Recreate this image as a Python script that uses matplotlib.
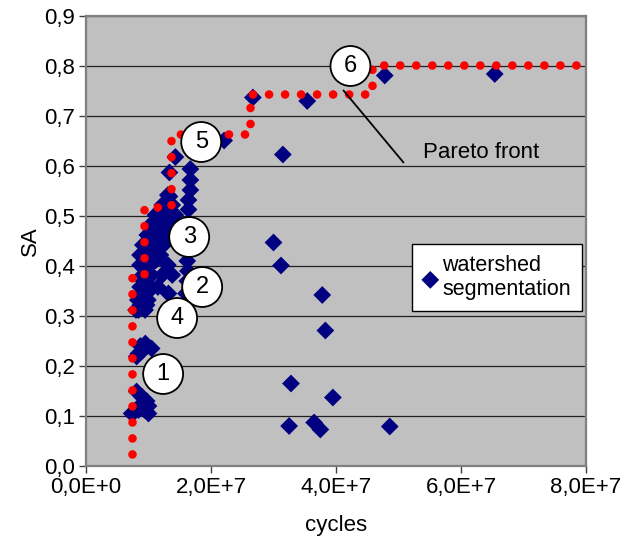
import math
import matplotlib
matplotlib.use('Agg')
import matplotlib.pyplot as plt
from matplotlib.ticker import FuncFormatter, MultipleLocator

plt.rcParams['font.family'] = ['Liberation Sans', 'DejaVu Sans']

SCALE = 1e7  # x values below are in units of 1e7 cycles

# watershed segmentation results (cycles / 1e7, SA)
ws_x = [0.73, 0.78, 0.84, 0.86, 0.95, 0.97, 1.00, 0.89, 0.81, 0.94, 1.00,
        0.81, 0.84, 0.89, 0.95, 0.97, 1.05, 0.87,
        0.84, 0.87, 0.95, 0.97, 0.89, 0.95, 1.05, 1.32, 0.97, 0.90,
        1.31, 1.22, 1.38, 1.11, 1.27, 1.43, 1.03, 1.19, 1.35, 0.98, 1.14, 1.30,
        0.91, 1.07, 1.24, 0.865, 1.03, 1.19, 0.865, 1.03, 1.31,
        0.91, 1.05, 1.22, 1.38, 0.865, 1.03, 1.15, 0.83, 0.99, 0.80, 0.945,
        1.26, 1.16, 1.08, 1.10, 0.95, 1.12, 1.20, 0.92,
        1.60, 1.61, 1.60, 1.62, 1.63, 1.62,
        1.43, 1.67, 1.335, 1.67, 1.67, 1.64, 1.64, 1.335, 2.21,
        3.00, 3.12, 3.78, 3.83, 3.28, 3.95, 3.25, 3.65, 3.75, 4.86,
        4.78, 6.54, 3.54, 2.67, 3.15]
ws_y = [0.105, 0.109, 0.112, 0.120, 0.125, 0.130, 0.105, 0.139, 0.149, 0.112, 0.120,
        0.219, 0.225, 0.229, 0.245, 0.239, 0.235, 0.240,
        0.312, 0.322, 0.330, 0.322, 0.335, 0.355, 0.355, 0.345, 0.360, 0.345,
        0.542, 0.522, 0.522, 0.502, 0.502, 0.502, 0.482, 0.482, 0.482, 0.462, 0.462, 0.462,
        0.442, 0.442, 0.442, 0.422, 0.422, 0.422, 0.402, 0.402, 0.402,
        0.382, 0.382, 0.382, 0.382, 0.358, 0.358, 0.358, 0.332, 0.332, 0.312, 0.312,
        0.520, 0.492, 0.472, 0.432, 0.392, 0.412, 0.452, 0.370,
        0.310, 0.325, 0.345, 0.370, 0.390, 0.410,
        0.618, 0.594, 0.587, 0.572, 0.552, 0.532, 0.513, 0.539, 0.651,
        0.447, 0.401, 0.342, 0.271, 0.165, 0.137, 0.080, 0.087, 0.073, 0.079,
        0.781, 0.784, 0.730, 0.737, 0.623]

# Pareto front corners
pareto_x = [0.74, 0.74, 0.93, 0.93, 1.36, 1.36, 2.63, 2.63, 4.57, 4.57, 8.0]
pareto_y = [0.025, 0.378, 0.378, 0.519, 0.519, 0.665, 0.665, 0.745, 0.745, 0.803, 0.803]

# numbered markers on the front
label_text = ['1', '2', '3', '4', '5', '6']
label_x = [1.234, 1.859, 1.651, 1.458, 1.843, 4.231]
label_y = [0.184, 0.358, 0.458, 0.296, 0.648, 0.800]

pareto_note = 'Pareto front'
note_xy = (4.12, 0.751)
note_end = (5.08, 0.607)
note_text_pos = (5.40, 0.628)


def fmt_x(v, pos):
    if v == 0:
        return '0,0E+0'
    e = int(math.floor(math.log10(abs(v))))
    m = v / 10 ** e
    return ('%.1fE+%d' % (m, e)).replace('.', ',')


def fmt_y(v, pos):
    return ('%.1f' % v).replace('.', ',')


fig = plt.figure(figsize=(6.26, 5.36), dpi=100)
ax = fig.add_axes([86 / 626, 1 - 466 / 536, 500 / 626, 450 / 536])
ax.set_facecolor('#c0c0c0')

ax.set_xlim(0, 8e7)
ax.set_ylim(0, 0.9)
ax.xaxis.set_major_locator(MultipleLocator(2e7))
ax.yaxis.set_major_locator(MultipleLocator(0.1))
ax.xaxis.set_major_formatter(FuncFormatter(fmt_x))
ax.yaxis.set_major_formatter(FuncFormatter(fmt_y))
ax.grid(axis='y', color='#202020', linewidth=0.9, zorder=0)
ax.set_axisbelow(True)

for s in ax.spines.values():
    s.set_color('#808080')
    s.set_linewidth(1.6)
ax.tick_params(direction='out', length=5, width=1, color='#404040',
               labelsize=16, pad=3)

ax.scatter([v * SCALE for v in ws_x], ws_y, marker='D', s=82,
           color='#000080', edgecolors='none', zorder=3,
           label='watershed\nsegmentation')

ax.plot([v * SCALE for v in pareto_x], pareto_y, color='#ff0000',
        linewidth=6.2, linestyle=(0, (0.01, 1.85)), dash_capstyle='round',
        zorder=4, clip_on=False)

ax.annotate('', xy=(note_xy[0] * SCALE, note_xy[1]),
            xytext=(note_end[0] * SCALE, note_end[1]),
            arrowprops=dict(arrowstyle='-', color='black', lw=1.3,
                            shrinkA=0, shrinkB=0), zorder=5)
ax.text(note_text_pos[0] * SCALE, note_text_pos[1], pareto_note,
        fontsize=16, va='center', ha='left', zorder=5)

for t, x, y in zip(label_text, label_x, label_y):
    ax.text(x * SCALE, y, t, fontsize=17, ha='center', va='center', zorder=6,
            bbox=dict(boxstyle='circle,pad=0.38', fc='white', ec='black', lw=1.3))

leg = ax.legend(loc='upper left', bbox_to_anchor=(0.652, 0.493), fontsize=15.5,
                frameon=True, fancybox=False, edgecolor='black', framealpha=1,
                handletextpad=0.2, handlelength=0.7, borderpad=0.5,
                borderaxespad=0)
leg.get_frame().set_linewidth(1.0)

ax.set_xlabel('cycles', fontsize=16, labelpad=12)
ax.set_ylabel('SA', fontsize=16, labelpad=2)

fig.savefig('out.png', dpi=100, facecolor='white')
